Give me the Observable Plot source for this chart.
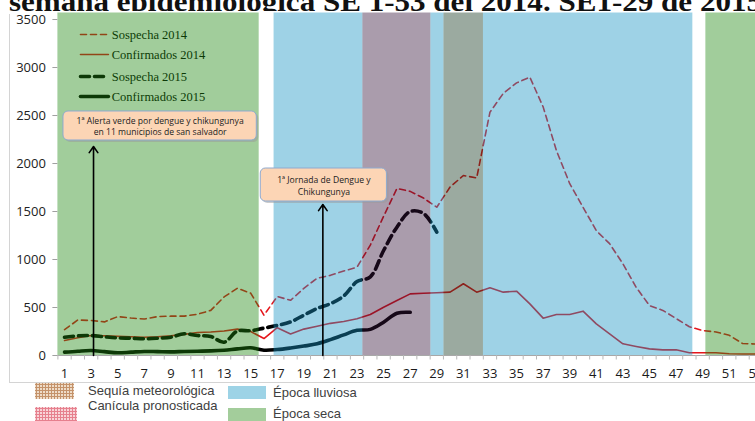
<!DOCTYPE html>
<html>
<head>
<meta charset="utf-8">
<script src="https://cdn.jsdelivr.net/npm/d3@7"></script>
<script src="https://cdn.jsdelivr.net/npm/@observablehq/plot@0.6"></script>
<style>
  html, body { margin: 0; padding: 0; background: #fff; overflow: hidden; width: 755px; height: 421px; }
  #wrap { position: relative; width: 755px; height: 421px; overflow: hidden; }
  #title { position: absolute; left: 0; top: 0; z-index: 0; }
  #chart { position: absolute; left: 0; top: 11px; z-index: 1; }
  #frame { position: absolute; left: 9px; top: 14px; width: 760px; height: 368px;
           border-left: 1.5px solid #d4d4d4; border-bottom: 1.5px solid #d4d4d4;
           z-index: 2; pointer-events: none; }
  #legend { position: absolute; left: 0; top: 0; z-index: 3; pointer-events: none; }
</style>
</head>
<body>
<div id="wrap">
  <svg id="title" width="755" height="14"><text x="9" y="10.8" font-family="Liberation Serif" font-weight="700" font-size="27" textLength="753" lengthAdjust="spacingAndGlyphs" fill="#111"></text></svg>
  <div id="chart"></div>
  <div id="frame"></div>
  <svg id="legend" width="755" height="421"></svg>
</div>
<script>
// ---------------- DATA ----------------
const titleText = "semana epidemiológica SE 1-53 del 2014. SE1-29 de 2015";

const sospecha2014 = [270, 370, 365, 350, 405, 390, 380, 405, 410, 410, 430, 470, 610, 700, 650,
  420, 615, 575, 700, 805, 835, 880, 920, 1150, 1450, 1740, 1710, 1640, 1545, 1755, 1875, 1850,
  2535, 2730, 2840, 2900, 2590, 2135, 1790, 1545, 1300, 1165, 955, 710, 520, 470, 385, 300, 260,
  245, 210, 125, 120];
const confirmados2014 = [156, 185, 208, 205, 200, 195, 190, 195, 205, 220, 240, 245, 255, 275, 250,
  177, 290, 225, 275, 305, 335, 354, 382, 427, 503, 573, 642, 649, 653, 660, 747, 660, 705, 660,
  670, 538, 389, 427, 427, 462, 330, 226, 122, 94, 69, 59, 59, 28, 28, 28, 18, 15, 15];
const sospecha2015 = [190, 205, 208, 195, 184, 180, 174, 180, 191, 226, 208, 198, 139, 255, 258,
  285, 313, 350, 420, 490, 540, 620, 770, 820, 1094, 1337, 1500, 1480, 1285];
const confirmados2015 = [35, 45, 52, 40, 28, 35, 42, 40, 38, 42, 45, 48, 55, 69, 80,
  55, 62, 78, 98, 122, 165, 215, 262, 272, 347, 440, 450];

const seriesNames = ["Sospecha 2014", "Confirmados 2014", "Sospecha 2015", "Confirmados 2015"];
const seriesValues = [sospecha2014, confirmados2014, sospecha2015, confirmados2015];

const xTickLabels = [1, 3, 5, 7, 9, 11, 13, 15, 17, 19, 21, 23, 25, 27, 29, 31, 33, 35, 37, 39,
  41, 43, 45, 47, 49, 51, 53];
const yTickLabels = [0, 500, 1000, 1500, 2000, 2500, 3000, 3500];

// season bands (in week units)
const bandNames = ["Época seca", "Época lluviosa", "Canícula", "Época lluviosa", "Sequía", "Época lluviosa", "Época seca"];
const bandStart = [0.5, 16.76, 23.44, 28.56, 29.54, 32.51, 49.24];
const bandEnd   = [15.64, 23.44, 28.56, 29.54, 32.51, 48.26, 53.5];

// annotations
const calloutLabels = ["1ª Alerta verde por dengue y chikungunya\nen 11 municipios de san salvador",
                       "1ª Jornada de Dengue y\nChikungunya"];
const calloutWeekFrom = [0.92, 15.76];
const calloutWeekTo   = [15.46, 25.25];
const calloutValLow   = [2240, 1604];
const calloutValHigh  = [2542, 1948];
const arrowWeek = [3.18, 20.43];
const arrowTip  = [2177, 1573];

const bottomLegendLabels = ["Sequía meteorológica", "Canícula pronosticada", "Época lluviosa", "Época seca"];

// ---------------- STYLES ----------------
const RED = "#e5161c", BLACK = "#000000";
const seriesStyle = [
  {stroke: RED, width: 1.6, dash: "6,4", curve: "linear"},
  {stroke: RED, width: 1.6, dash: null, curve: "linear"},
  {stroke: BLACK, width: 3.6, dash: "9,5", curve: "catmull-rom"},
  {stroke: BLACK, width: 3.6, dash: null, curve: "catmull-rom"}
];
const bandColor = {"Época seca": "#1f8811", "Época lluviosa": "#1894c3", "Canícula": "#351339", "Sequía": "#11351d"};
const BAND_OPACITY = 0.42;
const Y_TOP = 3568;
const legendLayout = {x1: 2.2, x2: 4.3, xText: 4.55, rows: [3344, 3135, 2906, 2698]};

// ---------------- BUILD ----------------
document.querySelector("#title text").textContent = titleText;

const seriesData = seriesValues.map((vals, s) => vals.map((v, i) => ({week: i + 1, value: v, name: seriesNames[s]})));
const bands = bandNames.map((n, i) => ({name: n, start: bandStart[i], end: bandEnd[i], color: bandColor[n]}));
const callouts = calloutLabels.map((t, i) => ({
  label: t, x1: calloutWeekFrom[i], x2: calloutWeekTo[i], y1: calloutValLow[i], y2: calloutValHigh[i],
  cx: (calloutWeekFrom[i] + calloutWeekTo[i]) / 2, cy: (calloutValLow[i] + calloutValHigh[i]) / 2,
  aw: arrowWeek[i], tip: arrowTip[i]
}));
const boundaries = xTickLabels.flatMap(w => [w - 0.5, w + 0.5]);

const legendMarks = seriesNames.flatMap((name, i) => {
  const st = seriesStyle[i];
  const row = legendLayout.rows[i];
  return [
    Plot.line([{x: legendLayout.x1, y: row}, {x: legendLayout.x2, y: row}],
      {x: "x", y: "y", stroke: st.stroke, strokeWidth: st.width, strokeDasharray: st.dash || undefined}),
    Plot.text([name], {x: legendLayout.xText, y: row, text: d => d, textAnchor: "start",
      fontFamily: "Liberation Serif", fontSize: 12.5, fill: "#000"})
  ];
});

const lineMarks = seriesData.map((data, i) => {
  const st = seriesStyle[i];
  return Plot.line(data, {x: "week", y: "value", stroke: st.stroke, strokeWidth: st.width,
    strokeDasharray: st.dash || undefined, curve: st.curve});
});

const chart = Plot.plot({
  width: 762,
  height: 373,
  marginLeft: 57.4,
  marginRight: 0,
  marginTop: 1.5,
  marginBottom: 29,
  x: {domain: [0.5, 53.5], label: null},
  y: {domain: [0, Y_TOP], label: null},
  color: {type: "identity"},
  style: {background: "white", maxWidth: "none", overflow: "visible", fontFamily: "Open Sans", fontSize: "12.5px"},
  marks: [
    ...legendMarks,
    ...lineMarks,
    Plot.rect(bands, {x1: "start", x2: "end", fill: "color", fillOpacity: BAND_OPACITY}),
    Plot.ruleY([0], {stroke: "#a8a8a8", strokeWidth: 1.2}),
    Plot.axisX(boundaries, {tickSize: 4.5, stroke: "#b8b8b8", tickFormat: () => ""}),
    Plot.axisX(xTickLabels, {tickSize: 0, tickPadding: 13, fill: "#1a1a1a", fontSize: 13, tickFormat: d => String(d)}),
    Plot.axisY(yTickLabels, {tickSize: 5, tickPadding: 7, stroke: "#a0a0a0", fill: "#222", fontSize: 13, tickFormat: d => String(d)}),
    Plot.rect(callouts, {x1: "x1", x2: "x2", y1: "y1", y2: "y2", rx: 5, dx: 2, dy: 2, fill: "#9a9a9a", fillOpacity: 0.5}),
    Plot.rect(callouts, {x1: "x1", x2: "x2", y1: "y1", y2: "y2", rx: 5, fill: "#fcd5b5", stroke: "#8eaad0", strokeWidth: 1}),
    Plot.text(callouts, {x: "cx", y: "cy", text: "label", fontFamily: "Open Sans", fontSize: 8.6, lineHeight: 1.35, fill: "#222"}),
    Plot.arrow(callouts, {x1: "aw", y1: d => 0, x2: "aw", y2: "tip", stroke: "#000", strokeWidth: 1.6, headLength: 7, headAngle: 70})
  ]
});
document.getElementById("chart").append(chart);

// ---------------- BOTTOM LEGEND ----------------
const leg = d3.select("#legend");
const defs = leg.append("defs");
const p1 = defs.append("pattern").attr("id", "sequia").attr("width", 3).attr("height", 3).attr("patternUnits", "userSpaceOnUse");
p1.append("rect").attr("width", 3).attr("height", 3).attr("fill", "#eedcc8");
p1.append("path").attr("d", "M0 0.5H3M0.5 0V3").attr("stroke", "#c4926a").attr("stroke-width", 1);
const p2 = defs.append("pattern").attr("id", "canicula").attr("width", 3).attr("height", 3).attr("patternUnits", "userSpaceOnUse");
p2.append("rect").attr("width", 3).attr("height", 3).attr("fill", "#f8d4d8");
p2.append("path").attr("d", "M0 0.5H3M0.5 0V3").attr("stroke", "#e6808e").attr("stroke-width", 1);

const legendSwatches = [
  {fill: "url(#sequia)", x: 35, y: 383, w: 39, h: 16, tx: 88, ty: 395},
  {fill: "url(#canicula)", x: 35, y: 407, w: 42, h: 14, tx: 88, ty: 410},
  {fill: "#9dd3e6", x: 228, y: 386, w: 38, h: 13, tx: 273, ty: 397},
  {fill: "#a3cd9b", x: 228, y: 408, w: 38, h: 13, tx: 273, ty: 418}
];
legendSwatches.forEach((s, i) => {
  leg.append("rect").attr("x", s.x).attr("y", s.y).attr("width", s.w).attr("height", s.h).attr("fill", s.fill);
  leg.append("text").attr("x", s.tx).attr("y", s.ty).attr("font-family", "Liberation Sans")
    .attr("font-size", 13).attr("fill", "#404040").text(bottomLegendLabels[i]);
});
</script>
</body>
</html>
